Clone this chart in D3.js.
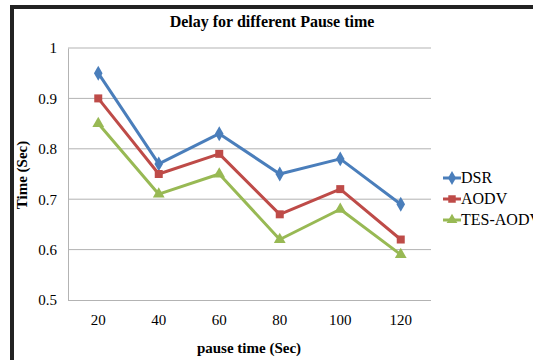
<!DOCTYPE html>
<html lang="en">
<head>
<meta charset="UTF-8">
<title>Delay for different Pause time</title>
<script src="https://d3js.org/d3.v7.min.js"></script>
<style>
  body { margin: 0; background: #fff; }
  svg text { font-family: 'Liberation Serif', 'DejaVu Serif', serif !important; fill: #000; }
</style>
</head>
<body>
<div id="chart"></div>
<script>
// data
var pauseTimes = ["20", "40", "60", "80", "100", "120"];
var dsr = [0.95, 0.77, 0.83, 0.75, 0.78, 0.69];
var aodv = [0.90, 0.75, 0.79, 0.67, 0.72, 0.62];
var tesAodv = [0.85, 0.71, 0.75, 0.62, 0.68, 0.59];
var yTicks = [0.5, 0.6, 0.7, 0.8, 0.9, 1];

var series = [
  {name: "DSR", values: dsr, color: "#4a7ebb", symbol: d3.symbolDiamond},
  {name: "AODV", values: aodv, color: "#be4b48", symbol: d3.symbolSquare},
  {name: "TES-AODV", values: tesAodv, color: "#98b954", symbol: d3.symbolTriangle}
];

var W = 533, H = 360;
var plot = {left: 68, right: 431, top: 48, bottom: 300};
var serif = "'Liberation Serif', 'DejaVu Serif', serif";

var svg = d3.select("#chart").append("svg")
    .attr("width", W).attr("height", H)
    .attr("font-family", serif);

// outer black frame
svg.append("path")
    .attr("d", "M12," + H + " V7 H" + W)
    .attr("fill", "none")
    .attr("stroke", "#222")
    .attr("stroke-width", 4);

var x = d3.scaleBand().domain(pauseTimes).range([plot.left, plot.right]);
var y = d3.scaleLinear().domain([0.5, 1]).range([plot.bottom, plot.top]);

// grid lines
svg.append("g").selectAll("line")
  .data(yTicks.slice(1))
  .join("line")
    .attr("x1", plot.left).attr("x2", plot.right)
    .attr("y1", d => y(d)).attr("y2", d => y(d))
    .attr("stroke", "#b3b3b3").attr("stroke-width", 1);

// y axis
var yAxis = svg.append("g")
    .attr("transform", "translate(" + plot.left + ",0)")
    .call(d3.axisLeft(y).tickValues(yTicks).tickFormat(d3.format("")).tickSize(0).tickPadding(11));
yAxis.attr("font-family", serif).attr("font-size", 15);
yAxis.select(".domain").attr("stroke", "#b3b3b3");

// x axis
var xAxis = svg.append("g")
    .attr("transform", "translate(0," + plot.bottom + ")")
    .call(d3.axisBottom(x).tickSize(0).tickPadding(14));
xAxis.attr("font-family", serif).attr("font-size", 15);
xAxis.select(".domain").attr("stroke", "#b3b3b3").attr("d", "M" + plot.left + ",0.5H" + plot.right);

// lines and markers
var line = d3.line()
    .x((d, i) => x(pauseTimes[i]) + x.bandwidth() / 2)
    .y(d => y(d));

series.forEach(function(s) {
  svg.append("path")
      .datum(s.values)
      .attr("fill", "none")
      .attr("stroke", s.color)
      .attr("stroke-width", 3)
      .attr("stroke-linejoin", "round")
      .attr("d", line);
  svg.append("g").selectAll("path")
    .data(s.values)
    .join("path")
      .attr("transform", (d, i) => "translate(" + (x(pauseTimes[i]) + x.bandwidth() / 2) + "," + y(d) + ")")
      .attr("d", d3.symbol().type(s.symbol).size(s.symbol === d3.symbolTriangle ? 60 : 64))
      .attr("fill", s.color);
});

// title
svg.append("text")
    .attr("x", 272).attr("y", 27)
    .attr("text-anchor", "middle")
    .attr("font-weight", "bold")
    .attr("font-size", 16)
    .text("Delay for different Pause time");

// axis titles
svg.append("text")
    .attr("transform", "translate(27,175) rotate(-90)")
    .attr("text-anchor", "middle")
    .attr("font-weight", "bold")
    .attr("font-size", 15)
    .text("Time (Sec)");

svg.append("text")
    .attr("x", 249).attr("y", 353)
    .attr("text-anchor", "middle")
    .attr("font-weight", "bold")
    .attr("font-size", 15)
    .text("pause time (Sec)");

// legend
var legend = svg.append("g");
series.forEach(function(s, i) {
  var ly = 178 + i * 21;
  legend.append("line")
      .attr("x1", 443).attr("x2", 461)
      .attr("y1", ly).attr("y2", ly)
      .attr("stroke", s.color).attr("stroke-width", 3);
  legend.append("path")
      .attr("transform", "translate(452," + ly + ")")
      .attr("d", d3.symbol().type(s.symbol).size(s.symbol === d3.symbolTriangle ? 50 : 56))
      .attr("fill", s.color);
  legend.append("text")
      .attr("x", 461).attr("y", ly + 5)
      .attr("font-size", 16)
      .text(s.name);
});
</script>
</body>
</html>
